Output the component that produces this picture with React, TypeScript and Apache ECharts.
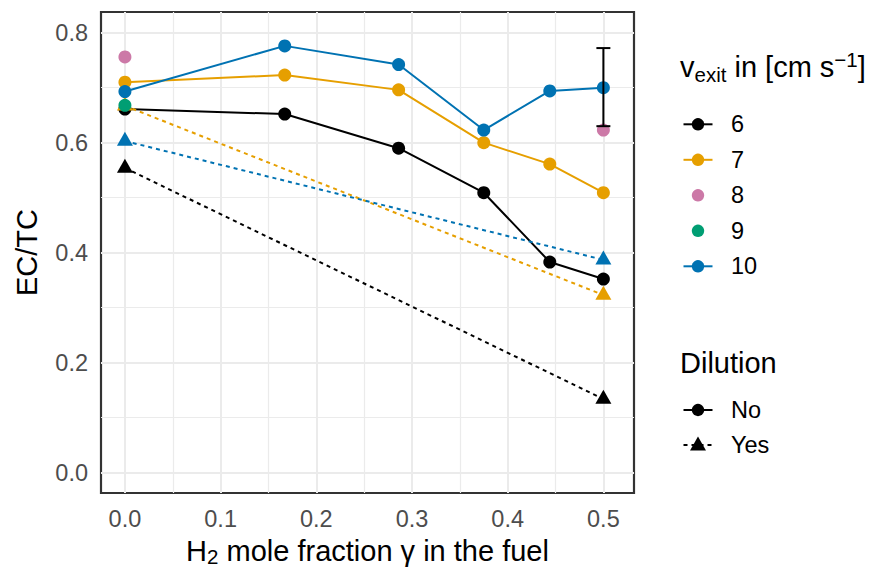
import React, { useEffect, useRef } from "react";
import * as echarts from "echarts";

// ---------- data ----------
const velocityLevels = ["6", "7", "8", "9", "10"];
const velocityColors = ["#000000", "#E69F00", "#CC79A7", "#009E73", "#0072B2"];
// which velocity groups are drawn with connecting lines (8 and 9 are points only)
const velocityConnected = [true, true, false, false, true];

// undiluted (solid lines + circles)
const xNo = [0, 0.167, 0.286, 0.375, 0.444, 0.5];
const v6No = [0.661, 0.652, 0.59, 0.509, 0.383, 0.352];
const v7No = [0.71, 0.723, 0.696, 0.6, 0.561, 0.509];
const v10No = [0.693, 0.776, 0.742, 0.623, 0.694, 0.7];
const x8No = [0, 0.5];
const v8No = [0.756, 0.623];
const x9No = [0];
const v9No = [0.668];

// diluted (dashed lines + triangles)
const xYes = [0, 0.5];
const v6Yes = [0.554, 0.134];
const v7Yes = [0.667, 0.323];
const v10Yes = [0.603, 0.387];

// error bar
const errX = [0.5];
const errLow = [0.63];
const errHigh = [0.772];
const errCapHalfWidth = 0.0073;

// axes
const xTicks = [0, 0.1, 0.2, 0.3, 0.4, 0.5];
const xMinor = [0.05, 0.15, 0.25, 0.35, 0.45];
const yTicks = [0, 0.2, 0.4, 0.6, 0.8];
const yMinor = [0.1, 0.3, 0.5, 0.7];
const dilutionLevels = ["No", "Yes"];

const FONT = '"Liberation Sans", Arial, Helvetica, sans-serif';

const pair = (xs: number[], ys: number[]) => xs.map((x, i) => [x, ys[i]]);

export default function App() {
  const ref = useRef<HTMLDivElement>(null);

  useEffect(() => {
    const chart = echarts.init(ref.current!, null, { renderer: "svg" });

    const noSets: { lv: number; xs: number[]; ys: number[] }[] = [
      { lv: 0, xs: xNo, ys: v6No },
      { lv: 1, xs: xNo, ys: v7No },
      { lv: 2, xs: x8No, ys: v8No },
      { lv: 3, xs: x9No, ys: v9No },
      { lv: 4, xs: xNo, ys: v10No },
    ];
    const yesSets: { lv: number; xs: number[]; ys: number[] }[] = [
      { lv: 0, xs: xYes, ys: v6Yes },
      { lv: 1, xs: xYes, ys: v7Yes },
      { lv: 4, xs: xYes, ys: v10Yes },
    ];

    const series: any[] = [];

    // gridlines via markLine on empty series
    const gridMajor = { color: "#EBEBEB", width: 2, type: "solid" };
    const gridMinor = { color: "#EBEBEB", width: 1.2, type: "solid" };
    series.push({
      type: "line",
      data: [],
      silent: true,
      markLine: {
        silent: true,
        z: 1,
        animation: false,
        symbol: ["none", "none"],
        label: { show: false },
        emphasis: { disabled: true },
        data: [
          ...xMinor.map((v) => ({ xAxis: v, lineStyle: gridMinor })),
          ...yMinor.map((v) => ({ yAxis: v, lineStyle: gridMinor })),
          ...xTicks.map((v) => ({ xAxis: v, lineStyle: gridMajor })),
          ...yTicks.map((v) => ({ yAxis: v, lineStyle: gridMajor })),
        ],
      },
    });

    // lines
    noSets.forEach((s) => {
      if (!velocityConnected[s.lv]) return;
      series.push({
        type: "line",
        name: velocityLevels[s.lv],
        data: pair(s.xs, s.ys),
        symbol: "none",
        silent: true,
        z: 2,
        lineStyle: { color: velocityColors[s.lv], width: 2 },
      });
    });
    yesSets.forEach((s) => {
      series.push({
        type: "line",
        name: velocityLevels[s.lv] + " diluted",
        data: pair(s.xs, s.ys),
        symbol: "none",
        silent: true,
        z: 2,
        lineStyle: { color: velocityColors[s.lv], width: 2, type: [4, 4] },
      });
    });

    // points in level order
    velocityLevels.forEach((_, lv) => {
      noSets
        .filter((s) => s.lv === lv)
        .forEach((s) =>
          series.push({
            type: "scatter",
            data: pair(s.xs, s.ys),
            symbol: "circle",
            symbolSize: 13,
            silent: true,
            z: 3,
            itemStyle: { color: velocityColors[lv], opacity: 1 },
          })
        );
      yesSets
        .filter((s) => s.lv === lv)
        .forEach((s) =>
          series.push({
            type: "scatter",
            data: pair(s.xs, s.ys),
            symbol: "triangle",
            symbolSize: [16, 14],
            symbolOffset: [0, -2.3],
            silent: true,
            z: 3,
            itemStyle: { color: velocityColors[lv], opacity: 1 },
          })
        );
    });

    // error bar
    series.push({
      type: "custom",
      z: 4,
      silent: true,
      data: errX.map((x, i) => [x, errLow[i], errHigh[i]]),
      encode: { x: 0, y: [1, 2] },
      renderItem: (params: any, api: any) => {
        const x = api.value(0);
        const lo = api.coord([x, api.value(1)]);
        const hi = api.coord([x, api.value(2)]);
        const left = api.coord([x - errCapHalfWidth, api.value(1)]);
        const half = lo[0] - left[0];
        const st = { stroke: "#000000", lineWidth: 2 };
        return {
          type: "group",
          children: [
            { type: "line", shape: { x1: lo[0], y1: lo[1], x2: hi[0], y2: hi[1] }, style: st },
            { type: "line", shape: { x1: lo[0] - half, y1: lo[1], x2: lo[0] + half, y2: lo[1] }, style: st },
            { type: "line", shape: { x1: hi[0] - half, y1: hi[1], x2: hi[0] + half, y2: hi[1] }, style: st },
          ],
        };
      },
    });

    // ----- legends (graphic) -----
    const graphic: any[] = [];
    const keyX = 698;
    const keyHalf = 14.5;
    const textX = 731;
    const legStart = 124.3;
    const legStep = 35.5;

    graphic.push({
      type: "text",
      x: 680,
      y: 67,
      style: {
        text: "{a|v}{s|exit}{a| in [cm s}{p|−1}{a|]}",
        align: "left",
        verticalAlign: "middle",
        rich: {
          a: { fontSize: 29, lineHeight: 36, fontFamily: FONT, fill: "#000" },
          s: { fontSize: 20.5, lineHeight: 16, verticalAlign: "bottom", fontFamily: FONT, fill: "#000" },
          p: { fontSize: 20.5, lineHeight: 16, verticalAlign: "top", fontFamily: FONT, fill: "#000" },
        },
      },
    });
    velocityLevels.forEach((lab, lv) => {
      const y = legStart + lv * legStep;
      if (velocityConnected[lv]) {
        graphic.push({
          type: "line",
          shape: { x1: keyX - keyHalf, y1: y, x2: keyX + keyHalf, y2: y },
          style: { stroke: velocityColors[lv], lineWidth: 2 },
        });
      }
      graphic.push({
        type: "circle",
        shape: { cx: keyX, cy: y, r: 6.2 },
        style: { fill: velocityColors[lv] },
      });
      graphic.push({
        type: "text",
        x: textX,
        y: y,
        style: { text: lab, fontSize: 23.5, fontFamily: FONT, fill: "#000", align: "left", verticalAlign: "middle" },
      });
    });

    graphic.push({
      type: "text",
      x: 680,
      y: 362.5,
      style: { text: "Dilution", fontSize: 29, fontFamily: FONT, fill: "#000", align: "left", verticalAlign: "middle" },
    });
    const dilY = [410, 445];
    dilutionLevels.forEach((lab, i) => {
      const y = dilY[i];
      graphic.push({
        type: "line",
        shape: { x1: keyX - keyHalf, y1: y, x2: keyX + keyHalf, y2: y },
        style: { stroke: "#000", lineWidth: 2, lineDash: i === 0 ? null : [4, 4] },
      });
      if (i === 0) {
        graphic.push({ type: "circle", shape: { cx: keyX, cy: y, r: 6.2 }, style: { fill: "#000" } });
      } else {
        graphic.push({
          type: "polygon",
          shape: { points: [[keyX, y - 8.5], [keyX + 8, y + 5.5], [keyX - 8, y + 5.5]] },
          style: { fill: "#000" },
        });
      }
      graphic.push({
        type: "text",
        x: textX,
        y: y,
        style: { text: lab, fontSize: 23.5, fontFamily: FONT, fill: "#000", align: "left", verticalAlign: "middle" },
      });
    });

    // axis titles
    graphic.push({
      type: "text",
      x: 26.5,
      y: 252.5,
      rotation: Math.PI / 2,
      style: { text: "EC/TC", fontSize: 29, fontFamily: FONT, fill: "#000", align: "center", verticalAlign: "middle" },
    });
    graphic.push({
      type: "text",
      x: 367.5,
      y: 551,
      style: {
        text: "{a|H}{s|2}{a| mole fraction γ in the fuel}",
        align: "center",
        verticalAlign: "middle",
        rich: {
          a: { fontSize: 29, lineHeight: 32, fontFamily: FONT, fill: "#000" },
          s: { fontSize: 20.5, lineHeight: 10, verticalAlign: "bottom", fontFamily: FONT, fill: "#000" },
        },
      },
    });

    const option: any = {
      animation: false,
      backgroundColor: "#ffffff",
      textStyle: { fontFamily: FONT },
      grid: {
        left: 101,
        top: 12,
        width: 533,
        height: 481,
        show: true,
        backgroundColor: "#ffffff",
        borderColor: "#333333",
        borderWidth: 2.2,
        containLabel: false,
      },
      xAxis: {
        type: "value",
        min: -0.025,
        max: 0.532,
        axisLine: { show: false },
        splitLine: { show: false },
        axisTick: { show: true, length: 6, lineStyle: { color: "#333333", width: 2 }, customValues: xTicks },
        axisLabel: {
          customValues: xTicks,
          formatter: (v: number) => v.toFixed(1),
          fontSize: 23.5,
          color: "#4D4D4D",
          fontFamily: FONT,
          margin: 14,
        },
      },
      yAxis: {
        type: "value",
        min: -0.037,
        max: 0.8376,
        axisLine: { show: false },
        splitLine: { show: false },
        axisTick: { show: true, length: 6, lineStyle: { color: "#333333", width: 2 }, customValues: yTicks },
        axisLabel: {
          customValues: yTicks,
          formatter: (v: number) => v.toFixed(1),
          fontSize: 23.5,
          color: "#4D4D4D",
          fontFamily: FONT,
          margin: 13,
        },
      },
      series,
      graphic,
    };

    chart.setOption(option);
    return () => chart.dispose();
  }, []);

  return (
    <div
      ref={ref}
      style={{ position: "absolute", left: 0, top: 0, width: 880, height: 569, background: "#fff" }}
    />
  );
}
